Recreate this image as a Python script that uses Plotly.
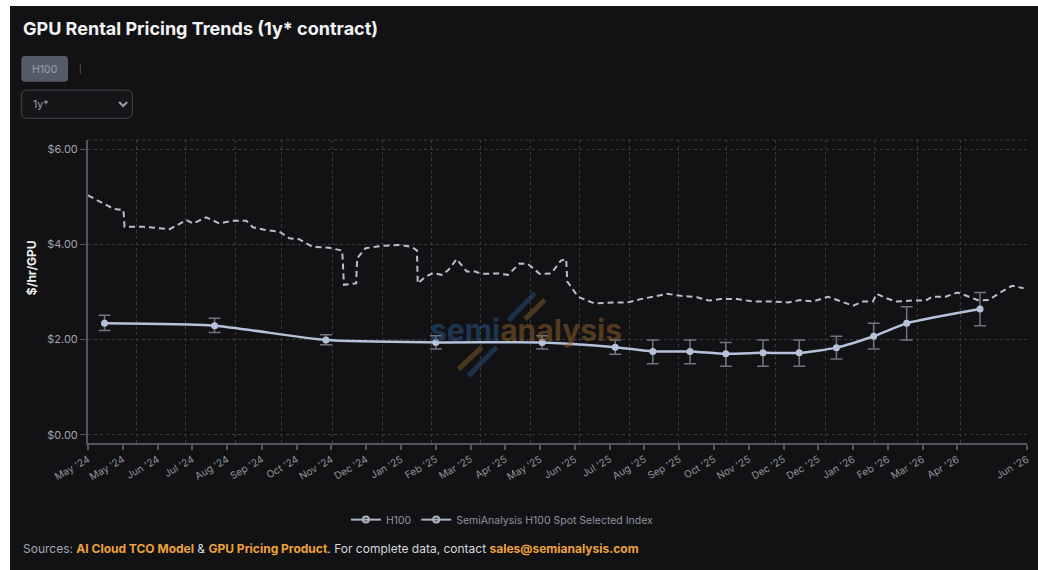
import plotly.graph_objects as go

# ---------------- data ----------------
tick_pos = [0, 1, 2, 3, 4, 5, 6, 7, 8, 9, 10, 11, 12, 13, 14, 15, 16, 17, 18, 19, 20, 21, 22, 23, 24, 25, 27]
tick_text = ["May '24", "May '24", "Jun '24", "Jul '24", "Aug '24", "Sep '24", "Oct '24", "Nov '24",
             "Dec '24", "Jan '25", "Feb '25", "Mar '25", "Apr '25", "May '25", "Jun '25", "Jul '25",
             "Aug '25", "Sep '25", "Oct '25", "Nov '25", "Dec '25", "Dec '25", "Jan '26", "Feb '26",
             "Mar '26", "Apr '26", "Jun '26"]
grid_pos = [1.40, 2.81, 4.24, 5.57, 7.04, 8.48, 9.89, 11.30, 12.72, 14.13, 15.56, 16.97,
            18.35, 19.78, 21.20, 22.61, 23.86, 25.09, 27.0]

h100_x = [0.475, 3.64, 6.84, 10.0, 13.06, 15.16, 16.24, 17.31, 18.34, 19.41, 20.45, 21.52, 22.59, 23.54, 25.65]
h100_y = [2.34, 2.29, 1.99, 1.94, 1.94, 1.84, 1.75, 1.75, 1.70, 1.72, 1.72, 1.83, 2.07, 2.34, 2.64]
h100_hi = [2.51, 2.45, 2.10, 2.08, 2.08, 1.99, 1.99, 1.99, 1.94, 1.99, 1.99, 2.07, 2.34, 2.69, 2.99]
h100_lo = [2.19, 2.15, 1.89, 1.80, 1.80, 1.69, 1.49, 1.49, 1.44, 1.44, 1.44, 1.59, 1.80, 1.99, 2.29]

spot_x = [0.00, 0.35, 0.73, 1.02, 1.05, 1.59, 2.35, 2.83, 3.02, 3.40, 3.78, 4.16, 4.55, 4.74, 5.12,
          5.50, 5.79, 6.07, 6.45, 6.93, 7.31, 7.36, 7.71, 7.74, 7.98, 8.46, 8.93, 9.31, 9.46, 9.48,
          9.70, 9.93, 10.17, 10.36, 10.60, 10.89, 11.13, 11.32, 11.79, 12.08, 12.41, 12.65, 12.99,
          13.32, 13.60, 13.75, 13.78, 14.09, 14.56, 15.13, 15.51, 15.89, 16.46, 16.66, 17.04, 17.51,
          17.85, 18.18, 18.66, 19.14, 19.61, 20.14, 20.47, 20.85, 21.28, 21.61, 22.00, 22.28, 22.57,
          22.68, 22.95, 23.23, 23.71, 24.09, 24.28, 24.66, 25.00, 25.33, 25.62, 25.90, 26.19, 26.57, 26.90]
spot_y = [5.03, 4.89, 4.75, 4.72, 4.37, 4.37, 4.32, 4.51, 4.44, 4.57, 4.44, 4.50, 4.50, 4.36, 4.30,
          4.27, 4.13, 4.11, 3.95, 3.93, 3.87, 3.15, 3.18, 3.71, 3.92, 3.97, 3.99, 3.95, 3.87, 3.18,
          3.32, 3.40, 3.36, 3.46, 3.69, 3.43, 3.43, 3.38, 3.39, 3.36, 3.60, 3.59, 3.38,
          3.39, 3.66, 3.69, 3.22, 2.90, 2.76, 2.78, 2.78, 2.85, 2.94, 2.96, 2.92, 2.89,
          2.82, 2.85, 2.85, 2.80, 2.80, 2.78, 2.83, 2.80, 2.90, 2.82, 2.71, 2.80, 2.80,
          2.96, 2.87, 2.80, 2.82, 2.82, 2.90, 2.90, 2.99, 2.90, 2.82, 2.83, 2.97, 3.13, 3.08]

series_names = ["H100", "SemiAnalysis H100 Spot Selected Index"]

# ---------------- layout geometry (window pixels) ----------------
W, H = 1038, 570
OFF_X, OFF_Y = 10, 6
PL, PR, PT, PB = 87.7, 1031.0, 140.0, 443.3
BG = "#121214"


def px(wx):
    return (wx - PL) / (PR - PL)


def py(wy):
    return (PB - wy) / (PB - PT)


def rrect(x0, y0, x1, y1, r):
    rx = r / (PR - PL)
    ry = r / (PB - PT)
    X0, X1 = px(x0), px(x1)
    Y0, Y1 = py(y1), py(y0)
    return (f"M {X0+rx},{Y0} L {X1-rx},{Y0} Q {X1},{Y0} {X1},{Y0+ry} "
            f"L {X1},{Y1-ry} Q {X1},{Y1} {X1-rx},{Y1} L {X0+rx},{Y1} "
            f"Q {X0},{Y1} {X0},{Y1-ry} L {X0},{Y0+ry} Q {X0},{Y0} {X0+rx},{Y0} Z")


fig = go.Figure()

# invisible trace for the grid overlay axis
fig.add_trace(go.Scatter(x=[0, 27], y=[None, None], xaxis="x2", yaxis="y",
                         showlegend=False, hoverinfo="skip", mode="lines"))

fig.add_trace(go.Scatter(
    x=h100_x, y=h100_y, name=series_names[0], mode="lines+markers", showlegend=False,
    line=dict(color="#b6c2da", width=2.5, shape="spline", smoothing=0.6),
    marker=dict(color="#b6c2da", size=7),
    error_y=dict(type="data", symmetric=False,
                 array=[h - v for h, v in zip(h100_hi, h100_y)],
                 arrayminus=[v - l for v, l in zip(h100_y, h100_lo)],
                 color="#6f7480", thickness=1.5, width=6),
))

fig.add_trace(go.Scatter(
    x=spot_x, y=spot_y, name=series_names[1], mode="lines", showlegend=False,
    line=dict(color="#b9bec8", width=2, dash="6px,4px"),
))

# legend entries
for nm in series_names:
    fig.add_trace(go.Scatter(x=[None], y=[None], name=nm, mode="lines+markers",
                             line=dict(color="#aab2c2", width=2),
                             marker=dict(symbol="circle-open", size=6, color="#aab2c2",
                                         line=dict(width=2))))

shapes = []
shapes.append(dict(type="line", xref="paper", yref="paper", x0=0, x1=1, y0=1, y1=1,
                   line=dict(color="#3a3a3f", width=1, dash="dot"), layer="below"))
for (x0, y0, x1, y1, c) in [(510, 320.7, 536.7, 293.3, "rgba(35,75,115,0.55)"),
                            (526.7, 319.3, 546.7, 300, "rgba(120,85,40,0.55)"),
                            (460, 369.3, 483.3, 347.3, "rgba(120,85,40,0.55)"),
                            (470, 376, 498.3, 347.3, "rgba(35,75,115,0.55)")]:
    shapes.append(dict(type="line", xref="paper", yref="paper", x0=px(x0), y0=py(y0),
                       x1=px(x1), y1=py(y1), line=dict(color=c, width=5), layer="below"))
shapes.append(dict(type="path", xref="paper", yref="paper", path=rrect(20.7, 56, 67.7, 81.7, 4),
                   fillcolor="#555c68", line=dict(width=0)))
shapes.append(dict(type="path", xref="paper", yref="paper", path=rrect(20.7, 90, 132.3, 118.3, 6),
                   fillcolor="#161618", line=dict(color="#45464b", width=1)))
shapes.append(dict(type="path", xref="paper", yref="paper",
                   path=f"M {px(119)},{py(102)} L {px(123)},{py(106)} L {px(127)},{py(102)}",
                   line=dict(color="#9aa0aa", width=2)))
shapes.append(dict(type="line", xref="paper", yref="paper", x0=px(80), x1=px(80),
                   y0=py(64), y1=py(74), line=dict(color="#4a4b50", width=1)))

annotations = [
    dict(text="<b>GPU Rental Pricing Trends (1y* contract)</b>", x=px(20), y=py(28),
         xref="paper", yref="paper", xanchor="left", yanchor="middle", showarrow=False,
         font=dict(size=18, color="#f2f2f4", family="Inter")),
    dict(text="H100", x=px(44.2), y=py(69), xref="paper", yref="paper", xanchor="center",
         yanchor="middle", showarrow=False, font=dict(size=10.5, color="#9aa3b0", family="Inter")),
    dict(text="1y*", x=px(30), y=py(104), xref="paper", yref="paper", xanchor="left",
         yanchor="middle", showarrow=False, font=dict(size=10.5, color="#9aa0aa", family="Inter")),
    dict(text="<b>$/hr/GPU</b>", x=px(31.7), y=py(268), xref="paper", yref="paper",
         xanchor="center", yanchor="middle", textangle=-90, showarrow=False,
         font=dict(size=12, color="#eeeeee", family="Inter")),
    dict(text="<b><span style='color:rgba(40,85,130,0.55)'>semi</span>"
              "<span style='color:rgba(140,95,40,0.55)'>analysis</span></b>",
         x=px(528), y=py(330), xref="paper", yref="paper", xanchor="center", yanchor="middle",
         showarrow=False, font=dict(size=30, family="Inter")),
    dict(text="<span style='color:#a3a8b2'>Sources: </span>"
              "<b><span style='color:#eea23a'>AI Cloud TCO Model</span></b>"
              "<span style='color:#d6d8dc'> &amp; </span>"
              "<b><span style='color:#eea23a'>GPU Pricing Product</span></b>"
              "<span style='color:#d6d8dc'>. For complete data, contact </span>"
              "<b><span style='color:#eea23a'>sales@semianalysis.com</span></b>",
         x=px(20), y=py(549), xref="paper", yref="paper", xanchor="left", yanchor="middle",
         showarrow=False, font=dict(size=12, family="Inter")),
]

fig.update_layout(
    width=W - OFF_X, height=H - OFF_Y,
    margin=dict(l=PL - OFF_X, r=W - PR, t=PT - OFF_Y, b=H - PB, pad=0),
    paper_bgcolor=BG, plot_bgcolor=BG,
    font=dict(family="Inter", color="#9a9ea6"),
    showlegend=True,
    legend=dict(orientation="h", x=px(504), y=py(520), xanchor="center", yanchor="middle",
                font=dict(size=10.5, color="#8d939e"), bgcolor="rgba(0,0,0,0)",
                itemwidth=30, tracegroupgap=0),
    xaxis=dict(range=[0, 27], tickmode="array", tickvals=tick_pos, ticktext=tick_text,
               tickangle=-30, tickfont=dict(size=10, color="#8e929a"),
               showgrid=False, zeroline=False, showline=True, linecolor="#55565b", linewidth=2,
               ticks="outside", ticklen=5, tickcolor="#55565b", tickwidth=1.5),
    xaxis2=dict(range=[0, 27], overlaying="x", tickmode="array", tickvals=grid_pos,
                showticklabels=False, ticks="", showgrid=True, gridcolor="#3a3a3f",
                griddash="dot", gridwidth=1, zeroline=False, showline=False, side="bottom"),
    yaxis=dict(range=[-0.175, 6.195], tickmode="array", tickvals=[0, 2, 4, 6], tickformat="$.2f",
               tickfont=dict(size=11, color="#a0a3aa"), showgrid=True, gridcolor="#3a3a3f",
               griddash="dot", gridwidth=1, zeroline=False, showline=True, linecolor="#55565b",
               linewidth=2, ticks="outside", ticklen=6, tickcolor="#55565b", tickwidth=1),
    shapes=shapes,
    annotations=annotations,
)

fig.write_html("out.html",
               post_script="document.body.style.margin='6px 0 0 10px';"
                           "document.body.style.overflow='hidden';"
                           "document.body.style.background='#ffffff';")
